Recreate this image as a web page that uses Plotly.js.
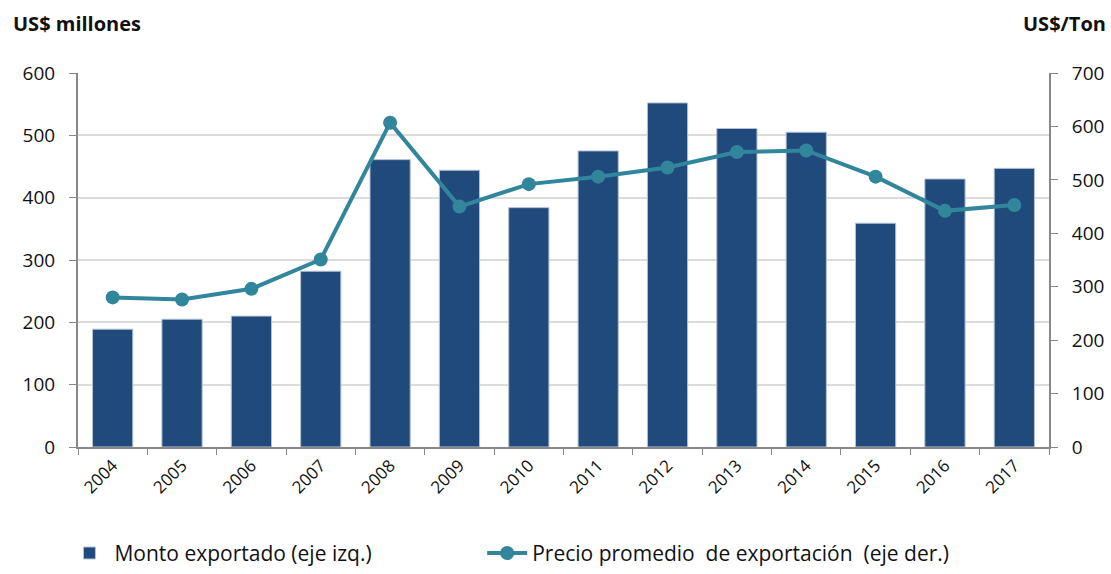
<!DOCTYPE html>
<html>
<head>
<meta charset="utf-8">
<script src="https://cdn.plot.ly/plotly-3.0.1.min.js"></script>
<style>html,body{margin:0;padding:0;background:#fff;}#chart{width:1111px;height:574px;}</style>
</head>
<body>
<div id="chart"></div>
<script>
const years = ["2004","2005","2006","2007","2008","2009","2010","2011","2012","2013","2014","2015","2016","2017"];
const montoExportado = [189, 205, 210, 282, 461, 444, 384, 475, 552, 511, 505, 359, 430, 447];
const precioPromedio = [280, 276, 296, 351, 607, 450, 492, 506, 523, 552, 555, 506, 442, 453];
const leftTicks = [0, 100, 200, 300, 400, 500, 600];
const rightTicks = [0, 100, 200, 300, 400, 500, 600, 700];

const barColor = "#214a7c";
const lineColor = "#31869c";
const tickFont = {family: "Open Sans, Lato, sans-serif", size: 19, color: "#111"};
const legendFont = {family: "Open Sans, sans-serif", size: 21, color: "#111"};

const traces = [
  {
    type: "bar", x: years, y: montoExportado, name: "Monto exportado (eje izq.)",
    marker: {color: barColor, line: {color: "#b4c2d6", width: 1}},
    yaxis: "y", hoverinfo: "x+y", legend: "legend"
  },
  {
    type: "scatter", mode: "lines+markers", x: years, y: precioPromedio,
    name: "Precio promedio  de exportación  (eje der.)",
    line: {color: lineColor, width: 4},
    marker: {color: lineColor, size: 14},
    yaxis: "y2", legend: "legend2"
  }
];

const layout = {
  width: 1111, height: 574,
  margin: {l: 78, r: 62, t: 73, b: 127},
  paper_bgcolor: "#fff", plot_bgcolor: "#fff",
  bargap: 0.42,
  showlegend: true,
  legend: {
    orientation: "h", xref: "container", yref: "container",
    x: 0.058, y: 0.036, xanchor: "left", yanchor: "middle",
    font: legendFont, itemwidth: 40
  },
  legend2: {
    orientation: "h", xref: "container", yref: "container",
    x: 0.434, y: 0.036, xanchor: "left", yanchor: "middle",
    font: legendFont, itemwidth: 40
  },
  xaxis: {
    type: "category", tickson: "boundaries", ticks: "outside", ticklen: 6, tickcolor: "#888",
    showline: true, linecolor: "#888", linewidth: 2, showgrid: false,
    tickangle: -45, tickfont: {family: "Open Sans, Lato, sans-serif", size: 17, color: "#111"},
    range: [-0.5, 13.5]
  },
  yaxis: {
    range: [0, 600], tickvals: leftTicks, ticktext: leftTicks.map(String),
    ticks: "outside", ticklen: 7, tickcolor: "#888", ticklabelstandoff: 10,
    showline: true, linecolor: "#888", linewidth: 2,
    showgrid: true, gridcolor: "#dcdcdc", gridwidth: 2, zeroline: false,
    tickfont: tickFont
  },
  yaxis2: {
    overlaying: "y", side: "right", range: [0, 700], tickvals: rightTicks, ticktext: rightTicks.map(String),
    ticks: "outside", ticklen: 7, tickcolor: "#888", ticklabelstandoff: 10,
    showline: true, linecolor: "#888", linewidth: 2, showgrid: false, zeroline: false,
    tickfont: tickFont
  },
  annotations: [
    {text: "<b>US$ millones</b>", xref: "paper", yref: "paper", x: -0.069, y: 1.132, xanchor: "left", yanchor: "middle",
     showarrow: false, font: {family: "Open Sans, Lato, sans-serif", size: 20, color: "#111"}},
    {text: "<b>US$/Ton</b>", xref: "paper", yref: "paper", x: 1.061, y: 1.132, xanchor: "right", yanchor: "middle",
     showarrow: false, font: {family: "Open Sans, Lato, sans-serif", size: 20, color: "#111"}}
  ]
};

Plotly.newPlot("chart", traces, layout, {displayModeBar: false, responsive: false});
</script>
</body>
</html>
